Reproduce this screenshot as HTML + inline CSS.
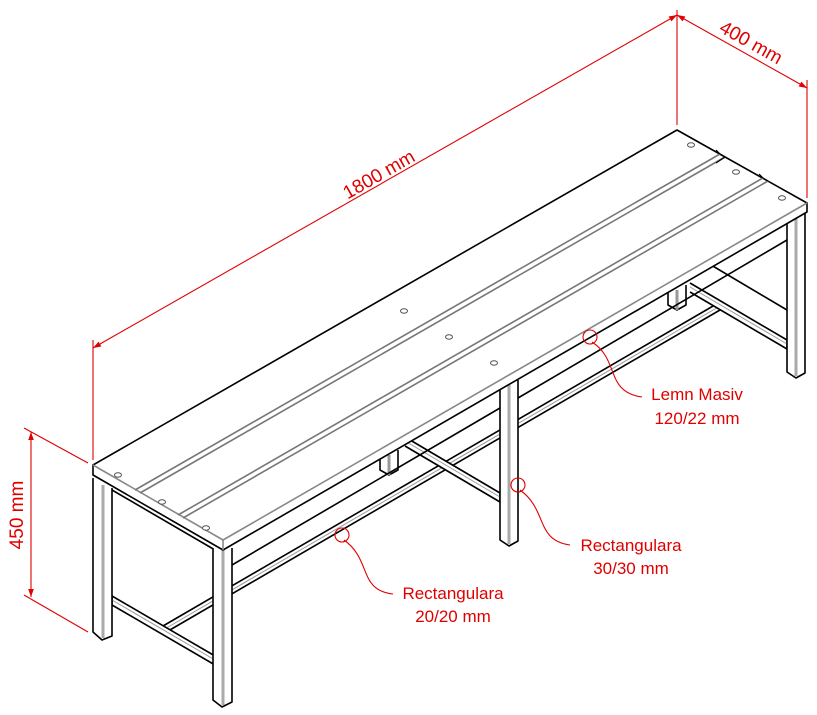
<!DOCTYPE html>
<html><head><meta charset="utf-8"><style>
html,body{margin:0;padding:0;background:#fff;width:817px;height:715px;overflow:hidden}
svg{display:block}
text{font-family:"Liberation Sans",sans-serif;font-size:17px;fill:#e00000}
.big{font-size:19px}
</style></head><body>
<svg width="817" height="715" viewBox="0 0 817 715" xmlns="http://www.w3.org/2000/svg">
<defs>
<marker id="ar" viewBox="0 0 10 10" refX="10" refY="5" markerWidth="10" markerHeight="8" orient="auto-start-reverse" markerUnits="userSpaceOnUse">
<path d="M0,1.5 L10,5 L0,8.5 z" fill="#e00000"/></marker>
</defs>
<g stroke="#000" stroke-width="1.6" fill="#fff" stroke-linejoin="round">
<path d="M380,455 L380,470 L389,475 L398,470 L398,450"/>
<line x1="389" y1="455" x2="389" y2="475" stroke="#999" stroke-width="3"/>
<path d="M668,290 L668,305 L677,310 L686,305 L686,285"/>
<line x1="677" y1="290" x2="677" y2="310" stroke="#999" stroke-width="3"/>
<!-- central longitudinal stretcher -->
<path d="M163,626 L720,302 L720,310 L163,634" fill="#fff"/>
<line x1="163" y1="630" x2="720" y2="306" stroke="#999" stroke-width="1"/>
<!-- cross rails -->
<path d="M112,596 L215,656 L215,665 L112,605 z"/>
<line x1="112" y1="600" x2="215" y2="660" stroke="#999" stroke-width="1"/>
<path d="M405,437 L500,493 L500,502 L405,446"/>
<line x1="405" y1="441" x2="500" y2="497" stroke="#999" stroke-width="1"/>
<path d="M690,283 L787,340 L787,349 L690,292"/>
<line x1="690" y1="287" x2="787" y2="344" stroke="#999" stroke-width="1"/>
<!-- aprons -->
<line x1="112" y1="490" x2="215" y2="550"/>
<line x1="232" y1="565" x2="500" y2="408"/>
<line x1="518" y1="398" x2="787" y2="240"/>
<line x1="706" y1="262" x2="787" y2="310"/>
<!-- legs -->
<g>
<path d="M93,478 L93,632 L102,640 L112,636 L112,488"/>
<line x1="103" y1="485" x2="103" y2="638" stroke="#aaa" stroke-width="3"/>
<path d="M213,548 L213,700 L222,707 L232,702 L232,548"/>
<line x1="223" y1="550" x2="223" y2="705" stroke="#aaa" stroke-width="3"/>
<path d="M500,388 L500,540 L509,546 L518,541 L518,380"/>
<line x1="509" y1="385" x2="509" y2="544" stroke="#aaa" stroke-width="3"/>
<path d="M787,222 L787,372 L796,378 L805,373 L805,210"/>
<line x1="796" y1="216" x2="796" y2="376" stroke="#aaa" stroke-width="3"/>
</g>
<!-- top slab -->
<path d="M93,465 L677,130 L807,203 L807,212 L223,550 L93,475 z"/>
<line x1="93" y1="465" x2="223" y2="540" stroke="#888"/>
<line x1="223" y1="540" x2="807" y2="203" stroke="#888"/>
<line x1="223" y1="540" x2="223" y2="550" stroke="#888"/>
<path d="M135,490 L720,154" fill="none" stroke="#777"/>
<path d="M140,493 L725,157" fill="none" stroke="#777"/>
<path d="M178,515 L763,178" fill="none" stroke="#777"/>
<path d="M183,518 L768,181" fill="none" stroke="#777"/>
<path d="M716,150 L720,154 L725,157 L716,163" fill="none" stroke="#000" stroke-width="1.2"/>
<path d="M759,174 L763,178 L768,181" fill="none" stroke="#000" stroke-width="1.2"/>
<g stroke="#555" stroke-width="1">
<ellipse cx="118" cy="475" rx="3.5" ry="2.2"/><ellipse cx="162" cy="502" rx="3.5" ry="2.2"/><ellipse cx="206" cy="528" rx="3.5" ry="2.2"/>
<ellipse cx="404" cy="311" rx="3.5" ry="2.2"/><ellipse cx="449" cy="337" rx="3.5" ry="2.2"/><ellipse cx="494" cy="363" rx="3.5" ry="2.2"/>
<ellipse cx="691" cy="145" rx="3.5" ry="2.2"/><ellipse cx="736" cy="172" rx="3.5" ry="2.2"/><ellipse cx="782" cy="198" rx="3.5" ry="2.2"/>
</g>
</g>
<g stroke="#e00000" stroke-width="1.1" fill="none">
<line x1="93" y1="460" x2="93" y2="340"/>
<line x1="677" y1="125" x2="677" y2="10"/>
<line x1="807" y1="198" x2="807" y2="80"/>
<line x1="93" y1="348" x2="677" y2="15" marker-start="url(#ar)" marker-end="url(#ar)"/>
<line x1="677" y1="15" x2="807" y2="88" marker-start="url(#ar)" marker-end="url(#ar)"/>
<line x1="24" y1="428" x2="88" y2="463"/>
<line x1="24" y1="595" x2="88" y2="632"/>
<line x1="31" y1="432" x2="31" y2="597" marker-start="url(#ar)" marker-end="url(#ar)"/>
<circle cx="590" cy="337" r="7"/>
<path d="M592,342 C620,360 605,392 642,397"/>
<circle cx="518" cy="485" r="7"/>
<path d="M520,490 C548,510 535,540 570,545"/>
<circle cx="342" cy="535" r="7"/>
<path d="M344,540 C372,560 358,590 393,594"/>
</g>
<text class="big" transform="translate(382,180) rotate(-29.8)" text-anchor="middle">1800 mm</text>
<text class="big" transform="translate(748,48) rotate(29.3)" text-anchor="middle">400 mm</text>
<text class="big" transform="translate(23,515) rotate(-90)" text-anchor="middle">450 mm</text>
<text x="697" y="400" text-anchor="middle">Lemn Masiv</text>
<text x="697" y="424" text-anchor="middle">120/22 mm</text>
<text x="631" y="551" text-anchor="middle">Rectangulara</text>
<text x="631" y="574" text-anchor="middle">30/30 mm</text>
<text x="453" y="599" text-anchor="middle">Rectangulara</text>
<text x="453" y="622" text-anchor="middle">20/20 mm</text>
</svg>
</body></html>
